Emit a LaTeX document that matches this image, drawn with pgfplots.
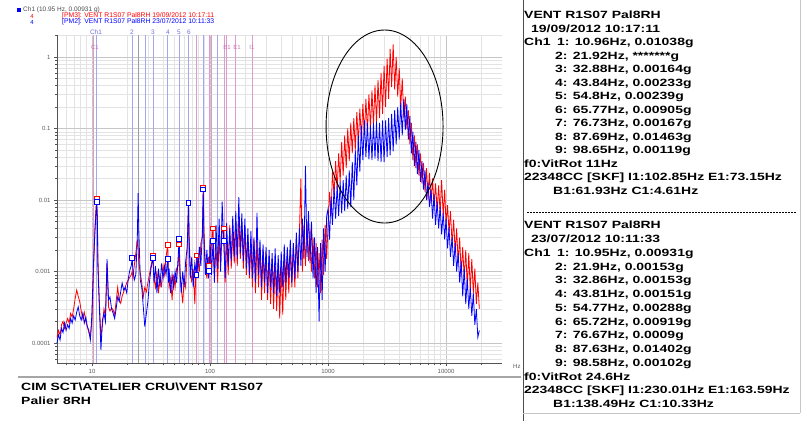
\documentclass[border=0pt]{standalone}
\usepackage{pgfplots}
\pgfplotsset{compat=1.18}
\usepackage{pgfplotstable}
\usepackage{fontspec}
\setmainfont{Liberation Sans}
\newfontfamily\pfont{Liberation Sans}[FakeStretch=1.33]
\definecolor{lav}{RGB}{165,165,240}
\definecolor{lavtxt}{RGB}{110,110,225}
\definecolor{pinkl}{RGB}{222,155,205}
\definecolor{pinktxt}{RGB}{205,110,180}
\definecolor{tickgray}{RGB}{90,90,90}
\pgfplotstableread{
f b r
5.05 0.00010 0.00012
5.2 0.00013 0.00015
5.36 0.00011 0.00013
5.52 0.00016 0.00018
5.68 0.00014 0.00020
5.85 0.00019 0.00016
6.03 0.00015 0.00019
6.21 0.00018 0.00022
6.4 0.00016 0.00019
6.59 0.00022 0.00026
6.79 0.00019 0.00023
6.99 0.00024 0.00030
7.2 0.00021 0.00042
7.42 0.00027 0.00055
7.64 0.00032 0.00045
7.87 0.00024 0.00038
8.1 0.00021 0.00028
8.35 0.00026 0.00022
8.6 0.00019 0.00027
8.86 0.00023 0.00020
9.12 0.00017 0.00017
9.4 0.00015 0.00014
9.68 0.00011 0.00012
9.97 0.00025 0.00020
10.27 0.0012 0.0009
10.58 0.0035 0.0040
10.8 0.0065 0.0075
10.95 0.00931 0.01038
11.1 0.0050 0.0060
11.22 0.0011 0.0015
11.56 0.00030 0.00035
11.9 0.00008 0.00012
12.26 0.00021 0.00018
12.63 0.00026 0.00030
13.0 0.00020 0.00024
13.4 0.0015 0.0013
13.8 0.00040 0.00032
14.2 0.00044 0.00028
14.65 0.00030 0.00031
15.1 0.00026 0.00029
15.55 0.00022 0.00025
16.0 0.00030 0.00038
16.5 0.00044 0.00060
17.0 0.00038 0.00040
17.5 0.00052 0.00036
18.0 0.00069 0.00045
18.55 0.00055 0.00052
19.1 0.00060 0.00060
19.7 0.00050 0.00070
20.3 0.00080 0.00076
20.9 0.00104 0.00083
21.5 0.0012 0.0009
21.9 0.00153 0.0010
22.15 0.0011 0.00083
22.8 0.00076 0.0012
23.5 0.0009 0.0018
24.2 0.0030 0.0028
24.6 0.0125 0.0020
24.9 0.0040 0.0013
25.65 0.00076 0.00095
26.4 0.00060 0.00070
27.2 0.00032 0.00044
28.0 0.00017 0.00060
28.9 0.00026 0.00052
29.75 0.00038 0.00070
30.65 0.00070 0.00090
31.6 0.00110 0.00120
32.86 0.00153 0.00164
33.5 0.0007 0.0008
34.5 0.0012 0.0006
35.5 0.0005 0.0010
36.6 0.0011 0.0005
37.7 0.0006 0.0009
38.8 0.0013 0.0006
40.0 0.0008 0.0012
41.2 0.0012 0.0009
42.4 0.0009 0.0016
43.81 0.00151 0.00233
44.5 0.0007 0.0009
45.0 0.0011 0.0006
46.3 0.0005 0.0008
47.7 0.0009 0.0004
49.1 0.0006 0.0009
50.6 0.0010 0.0006
52.1 0.0007 0.0011
53.7 0.0016 0.0012
54.77 0.00288 0.00239
55.7 0.0010 0.0009
57.0 0.0005 0.0006
58.7 0.0010 0.00036
60.4 0.0006 0.0008
62.2 0.0014 0.0006
64.1 0.0022 0.0020
65.72 0.00919 0.00905
66.5 0.0028 0.0030
68.0 0.0008 0.0012
70.0 0.0016 0.0007
72.1 0.0006 0.0011
74.3 0.0013 0.00035
76.67 0.0009 0.00167
77.5 0.0018 0.0008
78.8 0.0010 0.0016
81.2 0.0022 0.0010
83.6 0.0012 0.0025
86.1 0.0035 0.0030
87.63 0.01402 0.01463
88.7 0.0030 0.0040
91.4 0.0009 0.0012
94.1 0.0020 0.0008
96.9 0.0008 0.0016
98.6 0.00102 0.00119
100 0.0028 0.0010
103 0.0009 0.0026
106 0.0027 0.0040
109 0.0007 0.0009
112.5 0.0045 0.0022
116 0.0011 0.0007
119.5 0.0055 0.0030
123 0.0010 0.0012
126.7 0.0095 0.0035
130.5 0.0027 0.0040
134.4 0.0008 0.0007
138.4 0.0048 0.0030
142.6 0.0012 0.0009
146.9 0.0040 0.0045
151.3 0.0014 0.0011
155.8 0.0060 0.0035
160.5 0.0016 0.0013
165.3 0.0070 0.0050
170.2 0.0015 0.0012
175.4 0.0110 0.0060
180.6 0.0018 0.0015
186 0.0065 0.0045
191.6 0.0014 0.0011
197.4 0.0055 0.0040
203.3 0.0011 0.0009
209.4 0.0040 0.0030
215.7 0.0009 0.0008
222.1 0.0037 0.0025
228.8 0.0008 0.0006
235.7 0.0030 0.0028
242.7 0.0007 0.0005
250 0.0066 0.0030
257.5 0.0009 0.0006
265.2 0.0028 0.0022
273.2 0.0006 0.0004
281.4 0.0024 0.0020
289.8 0.0007 0.0005
298.5 0.0022 0.0018
307.5 0.0005 0.0004
316.7 0.0020 0.0016
326.2 0.0006 0.00035
336 0.0018 0.0015
346 0.0005 0.0003
356.4 0.0021 0.0014
367.1 0.00045 0.00028
378.1 0.0017 0.0013
389.5 0.0005 0.00022
401.2 0.0019 0.0012
413.2 0.0006 0.00025
425.6 0.0024 0.0016
438.4 0.0007 0.0004
451.5 0.0022 0.0018
465 0.0008 0.0005
479 0.0028 0.0020
493.4 0.0007 0.0006
508.2 0.0025 0.0023
523.4 0.0008 0.0006
539.1 0.0035 0.0030
555.3 0.0010 0.0008
572 0.0040 0.0035
589.1 0.0012 0.0200
606.8 0.0055 0.0010
625 0.0015 0.0045
643.8 0.0300 0.0012
663.1 0.0016 0.0050
683 0.0070 0.0014
703.5 0.0013 0.0040
724.6 0.0050 0.0010
746.3 0.0008 0.0030
768.7 0.0030 0.0008
791.8 0.0005 0.0025
815.5 0.0022 0.0006
840 0.0002 0.0018
865.2 0.0025 0.0005
891.2 0.0004 0.0028
917.9 0.0040 0.0009
945.5 0.0010 0.0045
973.8 0.0060 0.0015
1000 0.0075 0.0045
1030 0.0028 0.013
1060 0.011 0.006
1090 0.0045 0.025
1125 0.015 0.012
1160 0.0055 0.035
1195 0.016 0.014
1230 0.006 0.045
1267 0.018 0.018
1305 0.0065 0.065
1344 0.019 0.022
1384 0.007 0.08
1426 0.022 0.028
1469 0.0075 0.10
1513 0.026 0.035
1558 0.008 0.12
1605 0.034 0.045
1653 0.010 0.14
1702 0.05 0.05
1754 0.016 0.17
1806 0.08 0.06
1860 0.025 0.19
1916 0.11 0.07
1974 0.036 0.22
2033 0.13 0.08
2094 0.04 0.26
2157 0.12 0.09
2221 0.037 0.30
2288 0.11 0.10
2357 0.036 0.34
2427 0.12 0.11
2500 0.038 0.40
2575 0.125 0.12
2652 0.035 0.48
2732 0.12 0.14
2814 0.034 0.60
2898 0.13 0.16
2985 0.034 0.75
3075 0.13 0.20
3167 0.04 0.95
3262 0.14 0.26
3360 0.042 1.3
3460 0.16 0.38
3564 0.048 1.5
3671 0.18 0.35
3781 0.06 1.0
3895 0.20 0.28
4012 0.07 0.70
4132 0.23 0.20
4256 0.08 0.50
4384 0.26 0.14
4515 0.095 0.28
4650 0.22 0.10
4790 0.07 0.18
4934 0.15 0.06
5082 0.045 0.12
5234 0.09 0.036
5391 0.03 0.08
5553 0.065 0.028
5720 0.023 0.06
5891 0.05 0.022
6068 0.018 0.045
6250 0.035 0.017
6438 0.014 0.033
6631 0.026 0.013
6830 0.010 0.028
7035 0.018 0.010
7246 0.008 0.024
7463 0.014 0.009
7687 0.0055 0.020
7918 0.012 0.008
8155 0.0045 0.017
8400 0.0095 0.007
8652 0.004 0.016
8912 0.008 0.0065
9179 0.0033 0.019
9455 0.0066 0.006
9738 0.0028 0.014
10000 0.0055 0.0045
10300 0.0021 0.0085
10600 0.0042 0.0035
10900 0.0016 0.007
11250 0.0030 0.0024
11600 0.0012 0.0053
11950 0.0025 0.0018
12300 0.0010 0.0040
12670 0.0018 0.0013
13050 0.0007 0.0030
13440 0.0014 0.0009
13840 0.00045 0.0022
14260 0.0011 0.0008
14690 0.00035 0.0020
15130 0.0008 0.0006
15580 0.0003 0.0018
16050 0.0006 0.00055
16530 0.00024 0.0015
17020 0.0005 0.0005
17540 0.00018 0.0011
18060 0.0003 0.00035
18600 0.00012 0.0007
19150 0.00015 0.0003
}\spec
\newcommand\pl[3]{\node[anchor=base west,inner sep=0pt,font=\pfont\bfseries\fontsize{10.5}{12}\selectfont] at (#1,#2) {#3};}
\begin{document}
\begin{tikzpicture}
\path[use as bounding box] (0pt,0pt) rectangle (807pt,-426pt);
\begin{axis}[
  at={(57pt,-363pt)}, anchor=south west,
  scale only axis, width=445pt, height=328pt,
  xmode=log, ymode=log,
  xmin=5.05, xmax=29800, ymin=5.25e-5, ymax=2.03,
  axis x line*=bottom, axis y line*=left,
  axis line style={draw=gray!65!black, line width=0.8pt},
  grid=both,
  major grid style={draw=gray!45, line width=0.4pt},
  minor grid style={draw=gray!22, line width=0.4pt},
  tick align=outside,
  major tick length=3pt, minor tick length=1.8pt,
  tick style={draw=gray!65!black, line width=0.4pt},
  xtick={10,100,1000,10000}, xticklabels={10,100,1000,10000},
  minor xtick={6,7,8,9,20,30,40,50,60,70,80,90,200,300,400,500,600,700,800,900,2000,3000,4000,5000,6000,7000,8000,9000,20000},
  ytick={0.0001,0.001,0.01,0.1,1}, yticklabels={0.0001,0.001,0.01,0.1,1},
  minor ytick={6e-5,7e-5,8e-5,9e-5,2e-4,3e-4,4e-4,5e-4,6e-4,7e-4,8e-4,9e-4,2e-3,3e-3,4e-3,5e-3,6e-3,7e-3,8e-3,9e-3,0.02,0.03,0.04,0.05,0.06,0.07,0.08,0.09,0.2,0.3,0.4,0.5,0.6,0.7,0.8,0.9,2},
  ticklabel style={font=\fontsize{6}{7}\selectfont, text=tickgray},
  clip=false,
]
\pgfplotsinvokeforeach{10.95,21.9,32.86,43.81,54.77,65.72,87.63,28.1,114.6}{
  \addplot[lav, line width=0.6pt, forget plot] coordinates {(#1,5.25e-5) (#1,2.03)};}
\pgfplotsinvokeforeach{10.33,76.73,98.65,102.85,131,138.49,163.59,230.01}{
  \addplot[pinkl, line width=0.6pt, forget plot] coordinates {(#1,5.25e-5) (#1,2.03)};}
\addplot[gray!75, line width=1.1pt, forget plot] coordinates {(24.6,5.25e-5) (24.6,2.03)};
\addplot[red, line width=0.8pt] table[x=f,y=r]{\spec};
\addplot[blue, line width=0.8pt] table[x=f,y=b]{\spec};
\addplot[only marks, mark=square*, mark size=2.4pt, mark options={draw=red, fill=white, line width=1pt}] coordinates {(10.96,0.01038) (32.88,0.00164) (43.84,0.00233) (54.8,0.00239) (65.77,0.00905) (76.73,0.00167) (87.69,0.01463) (98.65,0.00119) (106,0.004) (131,0.004)};
\addplot[only marks, mark=square*, mark size=2.4pt, mark options={draw=blue, fill=white, line width=1pt}] coordinates {(10.95,0.00931) (21.9,0.00153) (32.86,0.00153) (43.81,0.00151) (54.77,0.00288) (65.72,0.00919) (76.67,0.0009) (87.63,0.01402) (98.58,0.00102) (106,0.0027) (131,0.0027)};
\draw[black, line width=0.9pt] (axis cs:3013,0.1066) ellipse [x radius=58.5pt, y radius=96.5pt];
\end{axis}
\begin{scope}[x=1pt,y=-1pt]
% legend
\fill[blue] (17,8) rectangle (21,12);
\node[anchor=west, inner sep=0pt, text=gray!60!black, font=\fontsize{6.5}{7}\selectfont] at (23,10) {Ch1 (10.95 Hz, 0.00931 g)};
\node[inner sep=0pt, text=red, font=\fontsize{6}{7}\selectfont] at (32,16) {4};
\node[anchor=west, inner sep=0pt, text=red, font=\fontsize{6.8}{7}\selectfont] at (62,16) {[PM3]: VENT R1S07 Pal8RH 19/09/2012 10:17:11};
\node[inner sep=0pt, text=blue, font=\fontsize{6}{7}\selectfont] at (32,22) {4};
\node[anchor=west, inner sep=0pt, text=blue, font=\fontsize{6.8}{7}\selectfont] at (62,22) {[PM2]: VENT R1S07 Pal8RH 23/07/2012 10:11:33};
% cursor labels
\begin{scope}[every node/.style={inner sep=0pt, text=lavtxt, font=\fontsize{6.5}{7}\selectfont}]
\node at (96,32) {Ch1};
\node at (132,32) {2};
\node at (153,32) {3};
\node at (168,32) {4};
\node at (179,32) {5};
\node at (189,32) {6};
\end{scope}
\begin{scope}[every node/.style={inner sep=0pt, text=pinktxt, font=\fontsize{6}{7}\selectfont}]
\node at (95,47) {C1};
\node at (227,47) {B1};
\node at (237,47) {E1};
\node at (252,47) {I1};
\end{scope}
\node[anchor=west, inner sep=0pt, text=tickgray, font=\fontsize{6}{7}\selectfont] at (513,366) {Hz};
% frames
\draw[gray!70, line width=1.3pt] (18,377) -- (521,377);
\draw[gray!60!black, line width=1pt] (523,0) -- (523,421);
\draw[gray!45, line width=0.8pt] (800,0) -- (800,413);
\draw[gray!45, line width=0.8pt] (523,413) -- (800,413);
\draw[black, line width=0.6pt, dash pattern=on 2pt off 1pt] (527,212) -- (796,212);
% bottom-left caption
\pl{21}{390.7}{CIM SCT\textbackslash ATELIER CRU\textbackslash VENT R1S07}
\pl{21}{404.7}{Palier 8RH}
% top panel
\pl{524}{18.7}{VENT R1S07 Pal8RH}
\pl{531}{32.2}{19/09/2012 10:17:11}
\pl{524}{45.7}{Ch1}
\pl{557}{45.7}{1: 10.96Hz, 0.01038g}
\pl{555}{59.2}{2: 21.92Hz, *******g}
\pl{555}{72.7}{3: 32.88Hz, 0.00164g}
\pl{555}{86.2}{4: 43.84Hz, 0.00233g}
\pl{555}{99.7}{5: 54.8Hz, 0.00239g}
\pl{555}{113.2}{6: 65.77Hz, 0.00905g}
\pl{555}{126.7}{7: 76.73Hz, 0.00167g}
\pl{555}{140.2}{8: 87.69Hz, 0.01463g}
\pl{555}{153.7}{9: 98.65Hz, 0.00119g}
\pl{524}{167.2}{f0:VitRot 11Hz}
\pl{524}{180.7}{22348CC [SKF] I1:102.85Hz E1:73.15Hz}
\pl{553}{194.2}{B1:61.93Hz C1:4.61Hz}
% bottom panel
\begin{scope}
\clip (520,200) rectangle (797,426);
\pl{524}{228.7}{VENT R1S07 Pal8RH}
\pl{531}{242.5}{23/07/2012 10:11:33}
\pl{524}{256.2}{Ch1}
\pl{557}{256.2}{1: 10.95Hz, 0.00931g}
\pl{555}{270}{2: 21.9Hz, 0.00153g}
\pl{555}{283.7}{3: 32.86Hz, 0.00153g}
\pl{555}{297.5}{4: 43.81Hz, 0.00151g}
\pl{555}{311.2}{5: 54.77Hz, 0.00288g}
\pl{555}{325}{6: 65.72Hz, 0.00919g}
\pl{555}{338.7}{7: 76.67Hz, 0.0009g}
\pl{555}{352.5}{8: 87.63Hz, 0.01402g}
\pl{555}{366.2}{9: 98.58Hz, 0.00102g}
\pl{524}{380}{f0:VitRot 24.6Hz}
\pl{524}{393.7}{22348CC [SKF] I1:230.01Hz E1:163.59Hz}
\pl{553}{407.5}{B1:138.49Hz C1:10.33Hz}
\end{scope}
\end{scope}
\end{tikzpicture}
\end{document}
